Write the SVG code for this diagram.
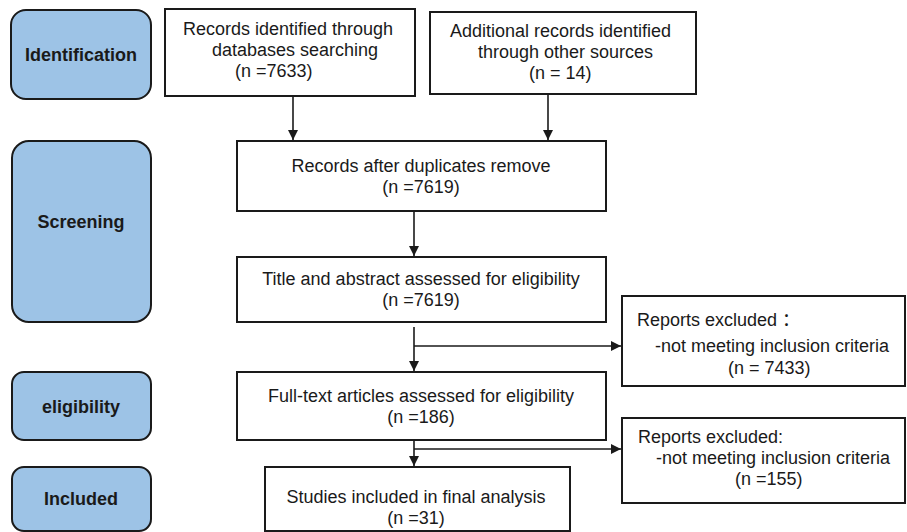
<svg xmlns="http://www.w3.org/2000/svg" width="907" height="532" viewBox="0 0 907 532">
<style>
.stage{fill:#9dc3e6;stroke:#1a1a1a;stroke-width:2}
.box{fill:#fff;stroke:#1a1a1a;stroke-width:2}
.t{font-family:"Liberation Sans",Arial,"Noto Sans CJK SC",sans-serif;font-size:18px;fill:#1a1a1a}
.b{font-weight:bold;text-anchor:middle}
.m{text-anchor:middle}
.c{fill:none;stroke:#1a1a1a;stroke-width:1.6}
</style>
<defs>
<marker id="ah" viewBox="0 0 10 10" refX="10" refY="5" markerWidth="10" markerHeight="10" markerUnits="userSpaceOnUse" orient="auto">
<path d="M0,0 L10,5 L0,10 Z" fill="#1a1a1a"/>
</marker>
</defs>
<g id="stage-identification"><rect class="stage" x="11" y="10" width="140" height="89" rx="15"/><text class="t b" x="81" y="61">Identification</text></g>
<g id="stage-screening"><rect class="stage" x="12" y="141" width="139" height="181" rx="17"/><text class="t b" x="81" y="228">Screening</text></g>
<g id="stage-eligibility"><rect class="stage" x="12" y="372" width="139" height="68" rx="12"/><text class="t b" x="81" y="413">eligibility</text></g>
<g id="stage-included"><rect class="stage" x="12" y="467" width="139" height="64" rx="12"/><text class="t b" x="81" y="505">Included</text></g>

<g id="records-db"><rect class="box" x="165" y="9" width="250" height="87"/>
<text class="t" x="183" y="35">Records identified through</text>
<text class="t" x="212" y="56">databases searching</text>
<text class="t" x="235" y="77">(n =7633)</text></g>
<g id="records-other"><rect class="box" x="430" y="12" width="266" height="82"/>
<text class="t" x="450" y="37">Additional records identified</text>
<text class="t" x="478" y="58">through other sources</text>
<text class="t" x="529" y="79">(n = 14)</text></g>
<g id="after-duplicates"><rect class="box" x="237" y="141" width="369" height="70"/>
<text class="t m" x="421" y="172">Records after duplicates remove</text>
<text class="t m" x="421" y="193">(n =7619)</text></g>
<g id="title-abstract"><rect class="box" x="237" y="257" width="369" height="65"/>
<text class="t m" x="421" y="285">Title and abstract assessed for eligibility</text>
<text class="t m" x="421" y="306">(n =7619)</text></g>
<g id="full-text"><rect class="box" x="237" y="372" width="369" height="68"/>
<text class="t m" x="421" y="402">Full-text articles assessed for eligibility</text>
<text class="t m" x="421" y="423">(n =186)</text></g>
<g id="included-studies"><rect class="box" x="265" y="467" width="305" height="64"/>
<text class="t m" x="416" y="503">Studies included in final analysis</text>
<text class="t m" x="416" y="524">(n =31)</text></g>
<g id="excluded-1"><rect class="box" x="622" y="296" width="283" height="90"/>
<text class="t" x="637" y="326">Reports excluded ：</text>
<text class="t" x="655" y="352">-not meeting inclusion criteria</text>
<text class="t" x="728" y="374">(n = 7433)</text></g>
<g id="excluded-2"><rect class="box" x="622" y="418" width="283" height="85"/>
<text class="t" x="638" y="443">Reports excluded:</text>
<text class="t" x="656" y="464">-not meeting inclusion criteria</text>
<text class="t" x="735" y="485">(n =155)</text></g>

<g id="connectors">
<path class="c" d="M293,96 V140" marker-end="url(#ah)"/>
<path class="c" d="M548,94 V140" marker-end="url(#ah)"/>
<path class="c" d="M414,211 V256" marker-end="url(#ah)"/>
<path class="c" d="M414,327 V371" marker-end="url(#ah)"/>
<path class="c" d="M414,346 H621" marker-end="url(#ah)"/>
<path class="c" d="M414,440 V466" marker-end="url(#ah)"/>
<path class="c" d="M414,449 H621" marker-end="url(#ah)"/>
</g>
</svg>
